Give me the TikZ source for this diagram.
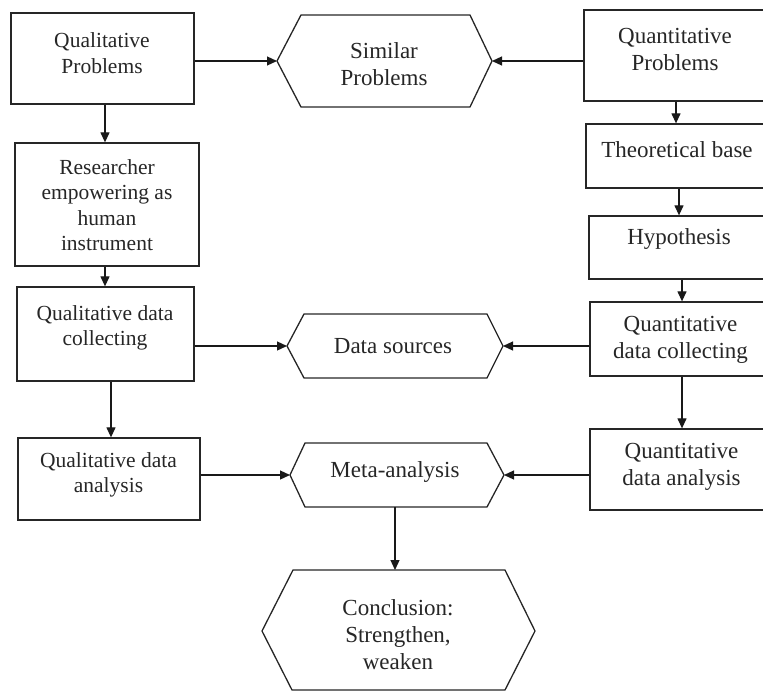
\documentclass[tikz,border=0pt]{standalone}
\usepackage{fontspec}
\setmainfont{Liberation Serif}
\usetikzlibrary{arrows.meta}
\begin{document}
\begin{tikzpicture}[x=1pt,y=-1pt,
  box/.style={draw=black!85, line width=1.3pt, inner sep=0pt, rectangle},
  lbl/.style={align=center, font=\fontsize{21.5}{25.5}\selectfont, text=black!85, inner sep=0pt},
  lblr/.style={align=center, font=\fontsize{23}{27}\selectfont, text=black!85, inner sep=0pt},
  hexline/.style={draw=black!85, line width=1.3pt, line join=miter},
  arr/.style={draw=black!90, line width=1.2pt, -{Triangle[length=10pt,width=9pt]}}]
\clip (0,0) rectangle (763,691);
% left column boxes
\node[box, minimum width=183pt, minimum height=91pt] (qlp) at (102.5,58.5) {};
\node[box, minimum width=184pt, minimum height=123pt] (res) at (107,204.5) {};
\node[box, minimum width=177pt, minimum height=94pt] (qdc) at (105.5,334) {};
\node[box, minimum width=182pt, minimum height=82pt] (qda) at (109,479) {};
% right column boxes
\node[box, minimum width=191pt, minimum height=91pt] (qnp) at (679.5,55.5) {};
\node[box, minimum width=189pt, minimum height=64pt] (tb) at (680.5,156) {};
\node[box, minimum width=186pt, minimum height=63pt] (hyp) at (682,247.5) {};
\node[box, minimum width=185pt, minimum height=74pt] (qndc) at (682.5,339) {};
\node[box, minimum width=185pt, minimum height=81pt] (qnda) at (682.5,469.5) {};
% texts
\node[lbl] (tqlp) at (102,53) {Qualitative\\Problems};
\node[lbl] (tres) at (107,205) {Researcher\\empowering as\\human\\instrument};
\node[lbl] (tqdc) at (105,328) {Qualitative data\\collecting};
\node[lbl] (tqda) at (108.5,475) {Qualitative data\\analysis};
\node[lblr] (tqnp) at (675,49) {Quantitative\\Problems};
\node[lblr] (ttb) at (677,150) {Theoretical base};
\node[lblr] (thyp) at (679,239) {Hypothesis};
\node[lblr] (tqndc) at (680.5,340) {Quantitative\\data collecting};
\node[lblr] (tqnda) at (681.5,467) {Quantitative\\data analysis};
% hexagons
\coordinate (sL) at (277,61); \coordinate (sTL) at (301,15); \coordinate (sTR) at (470,15);
\coordinate (sR) at (492,61); \coordinate (sBR) at (470,107); \coordinate (sBL) at (301,107);
\draw[hexline] (sL) -- (sTL) -- (sTR) -- (sR) -- (sBR) -- (sBL) -- cycle;
\node[lblr] (tsim) at (384,64) {Similar\\Problems};
\coordinate (dL) at (287,346); \coordinate (dTL) at (304,314); \coordinate (dTR) at (487,314);
\coordinate (dR) at (503,346); \coordinate (dBR) at (487,378); \coordinate (dBL) at (304,378);
\draw[hexline] (dL) -- (dTL) -- (dTR) -- (dR) -- (dBR) -- (dBL) -- cycle;
\node[lblr] (tds) at (393,346) {Data sources};
\coordinate (mL) at (290,475); \coordinate (mTL) at (305,443); \coordinate (mTR) at (487,443);
\coordinate (mR) at (504,475); \coordinate (mBR) at (487,507); \coordinate (mBL) at (305,507);
\draw[hexline] (mL) -- (mTL) -- (mTR) -- (mR) -- (mBR) -- (mBL) -- cycle;
\node[lblr] (tmeta) at (395,472) {Meta-analysis};
\coordinate (cL) at (262,631); \coordinate (cTL) at (293,570); \coordinate (cTR) at (505,570);
\coordinate (cR) at (535,631); \coordinate (cBR) at (505,690); \coordinate (cBL) at (292,690);
\draw[hexline] (cL) -- (cTL) -- (cTR) -- (cR) -- (cBR) -- (cBL) -- cycle;
\node[lblr] (tcon) at (398,635) {Conclusion:\\Strengthen,\\weaken};
% column coordinates for vertical arrows
\coordinate (cA) at (105,0);
\coordinate (cB) at (111,0);
\coordinate (cC) at (676,0);
\coordinate (cD) at (679,0);
\coordinate (cE) at (682,0);
\coordinate (cF) at (395,0);
% arrows
\draw[arr] (qlp.east |- sL) -- (sL);
\draw[arr] (qnp.west |- sR) -- (sR);
\draw[arr] (qlp.south -| cA) -- (res.north -| cA);
\draw[arr] (res.south -| cA) -- (qdc.north -| cA);
\draw[arr] (qdc.south -| cB) -- (qda.north -| cB);
\draw[arr] (qdc.east |- dL) -- (dL);
\draw[arr] (qda.east |- mL) -- (mL);
\draw[arr] (qnp.south -| cC) -- (tb.north -| cC);
\draw[arr] (tb.south -| cD) -- (hyp.north -| cD);
\draw[arr] (hyp.south -| cE) -- (qndc.north -| cE);
\draw[arr] (qndc.south -| cE) -- (qnda.north -| cE);
\draw[arr] (qndc.west |- dR) -- (dR);
\draw[arr] (qnda.west |- mR) -- (mR);
\draw[arr] (mBL -| cF) -- (cTL -| cF);
\end{tikzpicture}
\end{document}
